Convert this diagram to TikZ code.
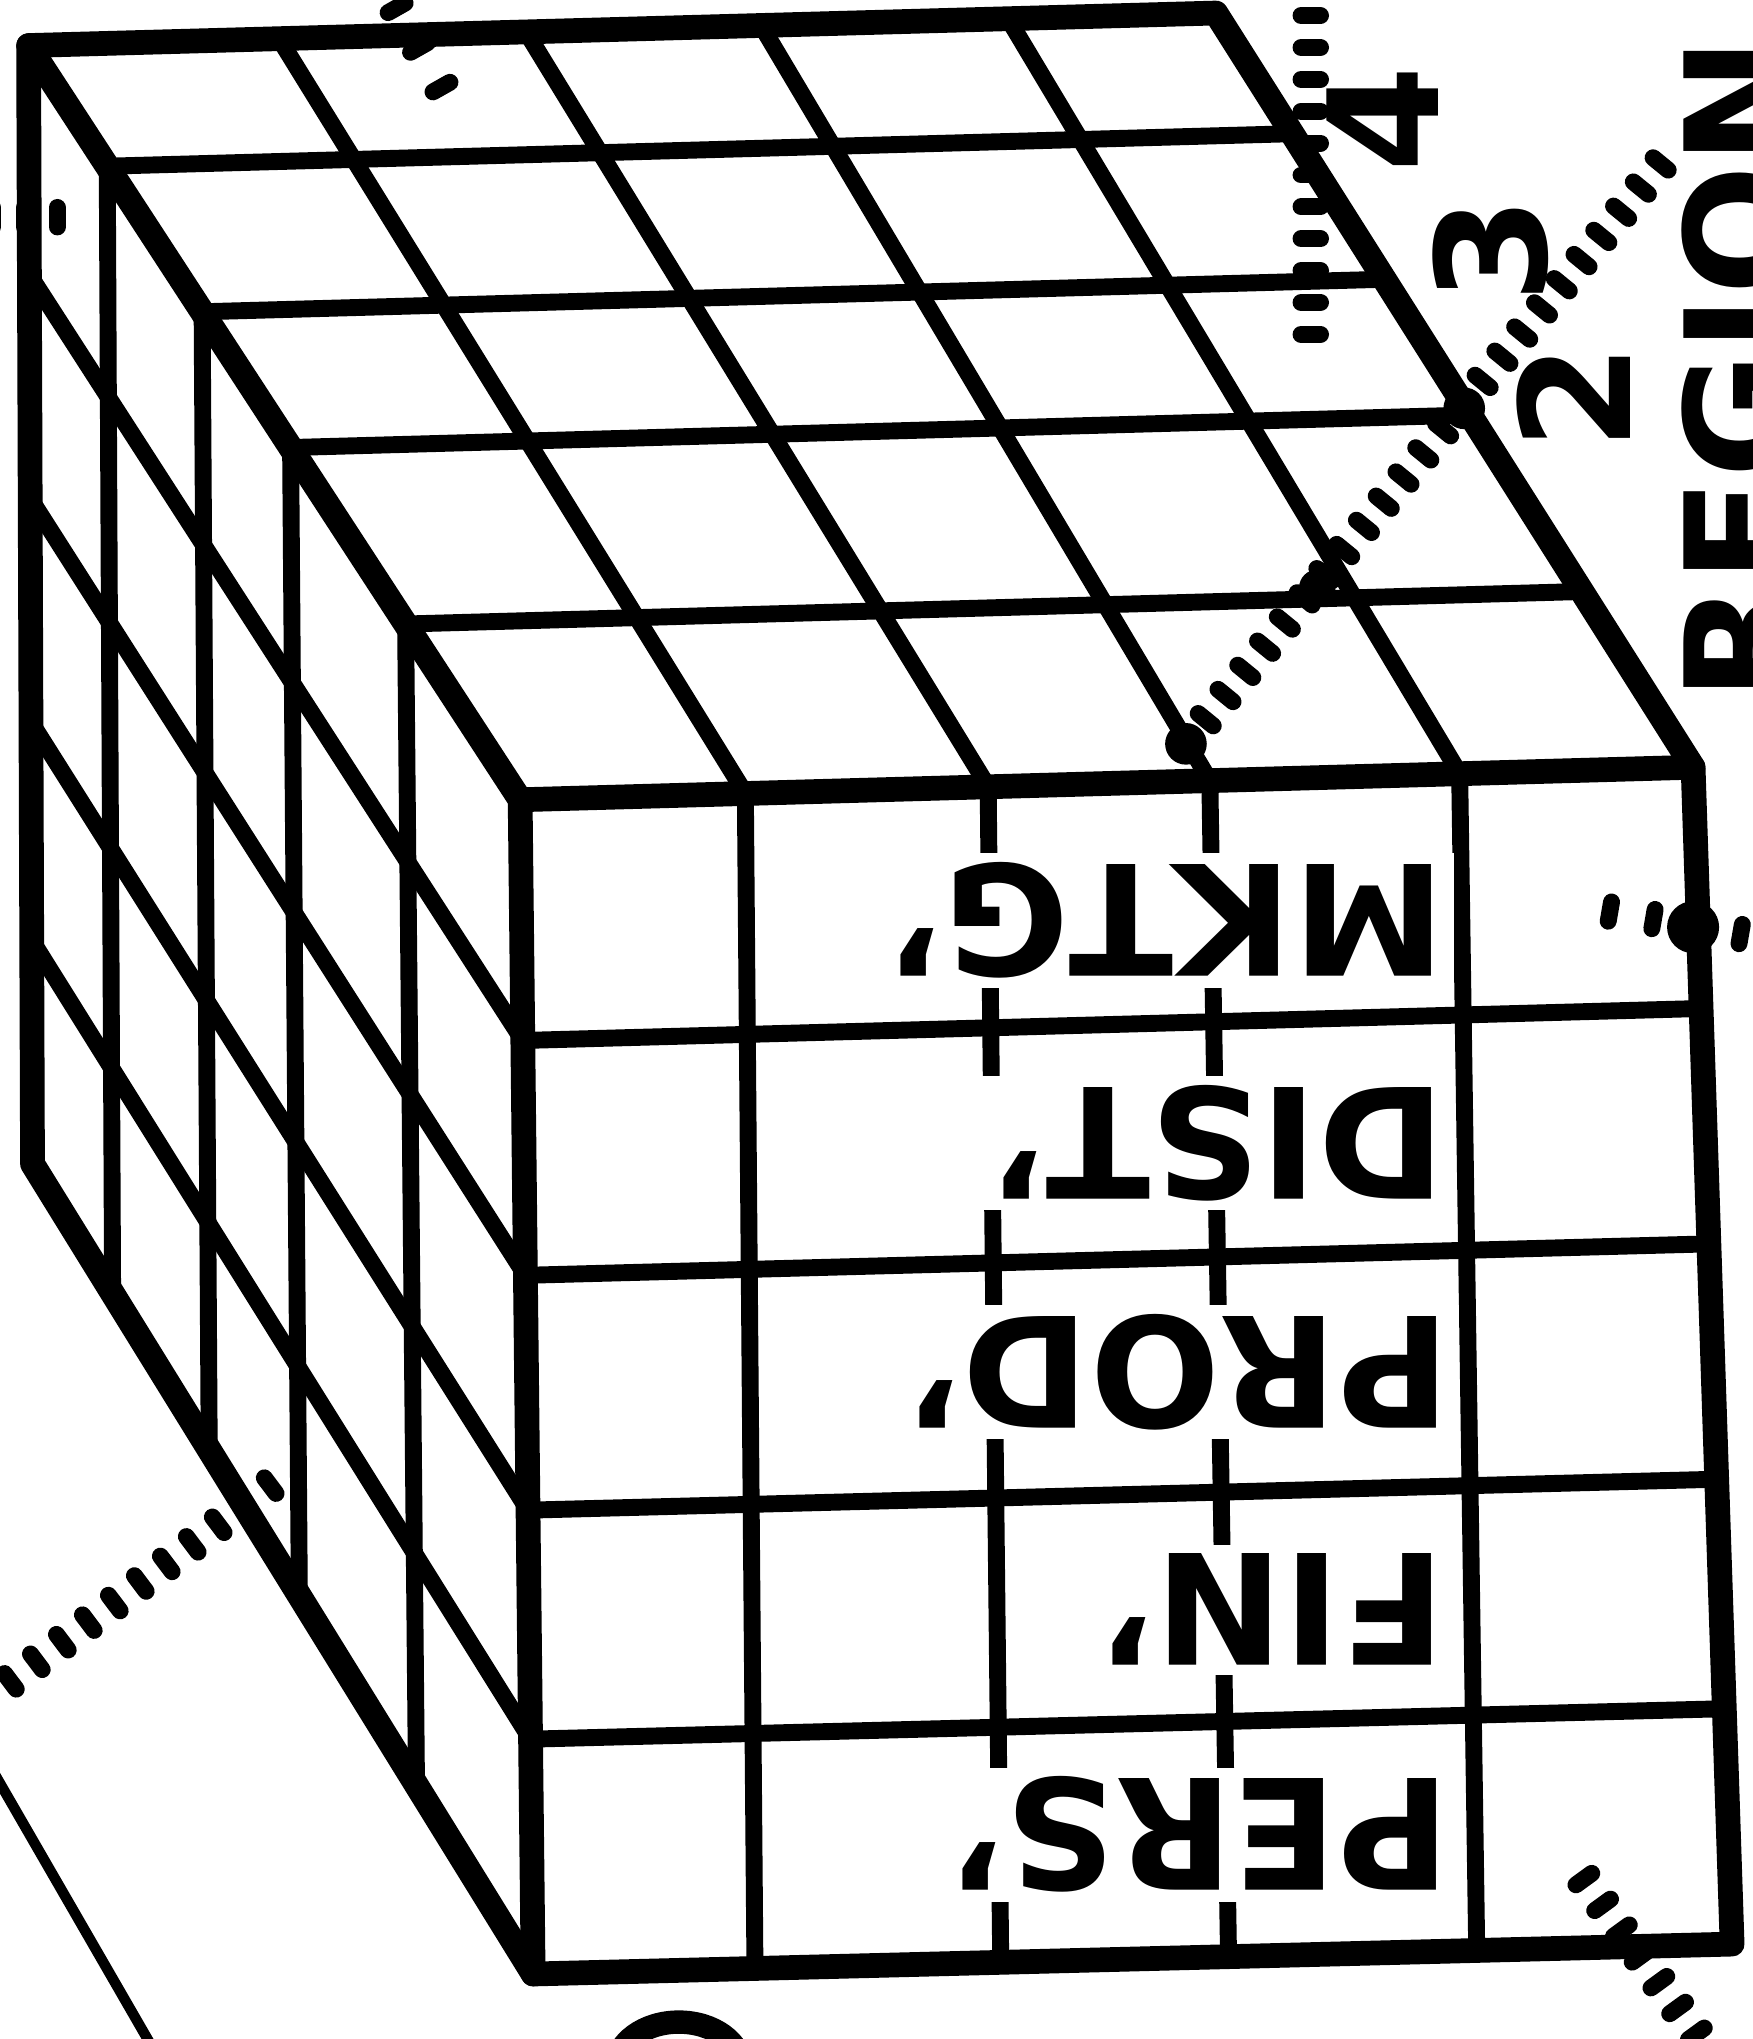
\documentclass[tikz,border=0pt]{standalone}
\usepackage{fontspec}
\setmainfont{DejaVu Sans}
\usetikzlibrary{calc,decorations.pathreplacing}
\newcommand\lblfont{\fontsize{33.5}{36}\selectfont\bfseries}
\begin{document}
\begin{tikzpicture}[x=0.01cm,y=-0.01cm,
  outer/.style={line width=0.19cm, line cap=round, line join=round},
  inner/.style={line width=0.13cm, line cap=round},
  thinline/.style={line width=0.08cm},
  ticksline/.style={line width=0.13cm, line cap=round, decorate,
    decoration={ticks, segment length=#1, amplitude=0.075cm}},
  lab/.style={rotate=180, anchor=base west, fill=white, inner sep=2pt, font=\lblfont},
  vlab/.style={rotate=90, anchor=base west, inner sep=0pt, font=\lblfont},
  bigdot/.style={circle, fill=black, inner sep=0pt, minimum size=#1}
]
\useasboundingbox (0,0) rectangle (1348,1568);
\clip (0,0) rectangle (1348,1568);

% cube corners
\coordinate (A) at (22,35);
\coordinate (B) at (935,10);
\coordinate (C) at (1302,590);
\coordinate (D) at (400,615);
\coordinate (E) at (410,1518);
\coordinate (F) at (1332,1495);
\coordinate (G) at (25,895);

% top face rows and left face columns
\foreach \tv in {0.16,0.353,0.533,0.767} {
  \draw[inner] ($(A)!\tv!(D)$) -- ($(B)!\tv!(C)$);
  \draw[inner] ($(A)!\tv!(D)$) -- ($(G)!\tv!(E)$);
}
% top face columns
\foreach \pa/\pb in {0.211/0.192, 0.419/0.399, 0.617/0.588, 0.825/0.801}
  \draw[inner] ($(A)!\pa!(B)$) -- ($(D)!\pb!(C)$);
% front face rows and left face rows
\foreach \uv in {0.205,0.405,0.605,0.8} {
  \draw[inner] ($(D)!\uv!(E)$) -- ($(C)!\uv!(F)$);
  \draw[inner] ($(A)!\uv!(G)$) -- ($(D)!\uv!(E)$);
}
% front face columns
\foreach \pa/\pb in {0.192/0.185, 0.399/0.39, 0.588/0.58, 0.801/0.787}
  \draw[inner] ($(D)!\pa!(C)$) -- ($(E)!\pb!(F)$);

% outer edges
\draw[outer] (A) -- (B) -- (C) -- (F) -- (E) -- (G) -- cycle;
\draw[outer] (A) -- (D) -- (C);
\draw[outer] (D) -- (E);

% labels on the front face
\node[lab] (mktg) at (1119,665) {MKTG'};
\node[lab] (dist) at (1119,836) {DIST'};
\node[lab] (prod) at (1123,1012) {PROD'};
\node[lab] (fin)  at (1119,1195) {FIN'};
\node[lab] (pers) at (1123,1368) {PERS'};

% dotted (tick) lines
\coordinate (t1s) at (912,572);  \coordinate (t1e) at (1282,120);
\coordinate (t2s) at (1008,12);  \coordinate (t2e) at (1008,272);
\coordinate (t3s) at (1238,701); \coordinate (t3e) at (1360,722);
\coordinate (t4s) at (1218,1445);\coordinate (t4e) at (1322,1588);
\coordinate (t5s) at (-12,1308); \coordinate (t5e) at (215,1137);
\coordinate (t6s) at (305,6);    \coordinate (t6e) at (348,82);
\coordinate (t7s) at (-6,167);   \coordinate (t7e) at (52,167);
\draw[ticksline=0.24cm] (t1s) -- (t1e);
\draw[ticksline=0.245cm] (t2s) -- (t2e);
\draw[ticksline=0.34cm] (t3s) -- (t3e);
\draw[ticksline=0.245cm] (t4s) -- (t4e);
\draw[ticksline=0.25cm] (t5s) -- (t5e);
\draw[ticksline=0.35cm] (t6s) -- (t6e);
\draw[ticksline=0.25cm] (t7s) -- (t7e);

% big dots
\node[bigdot=0.32cm] (d1) at (912,572) {};
\node[bigdot=0.28cm] (d2) at (1013,452) {};
\node[bigdot=0.32cm] (d3) at (1126,314) {};
\node[bigdot=0.40cm] (d4) at (1302,713) {};

% axis labels
\node[vlab] (region) at (1381,540) {REGION};
\node[vlab] (n4) at (1106,133) {4};
\node[vlab] (n3) at (1189,234) {3};
\node[vlab] (n2) at (1254,347) {2};

% fragments at the lower border
\draw[line width=0.18cm] (522,1590) ellipse [x radius=0.48cm, y radius=0.35cm];
\coordinate (l1) at (-10,1354); \coordinate (l2) at (125,1588);
\draw[thinline] (l1) -- (l2);
\end{tikzpicture}
\end{document}
